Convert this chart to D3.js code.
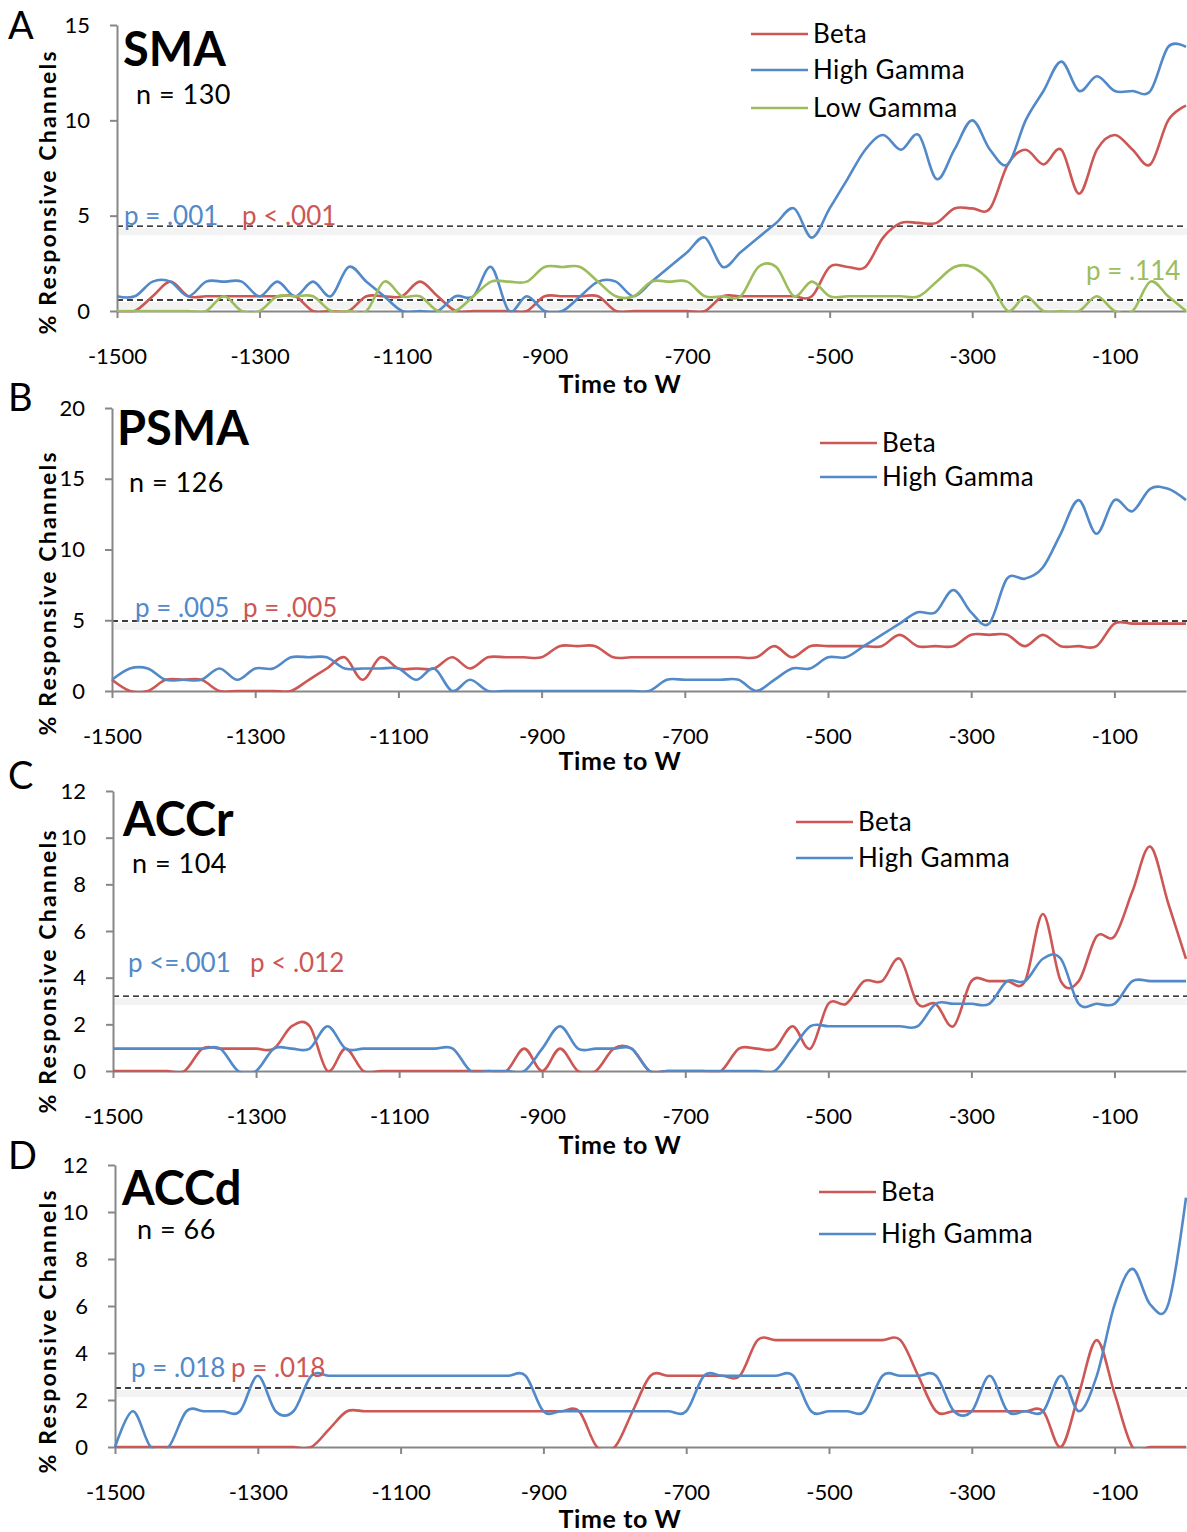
<!DOCTYPE html>
<html><head><meta charset="utf-8">
<script src="https://cdn.jsdelivr.net/npm/d3@7"></script>
<style>
body{margin:0;background:#fff}
svg{display:block}
text{font-family:Lato,"Noto Sans",sans-serif}
</style>
</head><body>
<svg id="chart" width="1187" height="1532"></svg>
<script>
// ---------- DATA ----------
const times = [-1500,-1475,-1450,-1425,-1400,-1375,-1350,-1325,-1300,-1275,-1250,-1225,-1200,-1175,-1150,-1125,-1100,-1075,-1050,-1025,-1000,-975,-950,-925,-900,-875,-850,-825,-800,-775,-750,-725,-700,-675,-650,-625,-600,-575,-550,-525,-500,-475,-450,-425,-400,-375,-350,-325,-300,-275,-250,-225,-200,-175,-150,-125,-100,-75,-50,-25,0];
const xTickValues = [-1500,-1300,-1100,-900,-700,-500,-300,-100];

// SMA (n = 130)
const smaBeta = [0,0,0.77,1.54,0.77,0.77,0.77,0.77,0.77,0.77,0.77,0,0,0,0.77,0.77,0.77,1.54,0.77,0,0,0,0,0,0.77,0.77,0.77,0.77,0,0,0,0,0,0,0.77,0.77,0.77,0.77,0.77,0.77,2.31,2.31,2.31,3.85,4.62,4.62,4.62,5.38,5.38,5.38,7.69,8.46,7.69,8.46,6.15,8.46,9.23,8.46,7.69,10.0,10.77];
const smaHighGamma = [0.77,0.77,1.54,1.54,0.77,1.54,1.54,1.54,0.77,1.54,0.77,1.54,0.77,2.31,1.54,0.77,0,0,0,0.77,0.77,2.31,0,0.77,0,0,0.77,1.54,1.54,0.77,1.54,2.31,3.08,3.85,2.31,3.08,3.85,4.62,5.38,3.85,5.38,6.92,8.46,9.23,8.46,9.23,6.92,8.46,10.0,8.46,7.69,10.0,11.54,13.08,11.54,12.31,11.54,11.54,11.54,13.85,13.85];
const smaLowGamma = [0,0,0,0,0,0,0.77,0,0,0.77,0.77,0.77,0,0,0,1.54,0.77,0.77,0,0,0.77,1.54,1.54,1.54,2.31,2.31,2.31,1.54,0.77,0.77,1.54,1.54,1.54,0.77,0.77,0.77,2.31,2.31,0.77,1.54,0.77,0.77,0.77,0.77,0.77,0.77,1.54,2.31,2.31,1.54,0,0.77,0,0,0,0.77,0,0,1.54,0.77,0];

// PSMA (n = 126)
const psmaBeta = [0.79,0,0,0.79,0.79,0.79,0,0,0,0,0,0.79,1.59,2.38,0.79,2.38,1.59,1.59,1.59,2.38,1.59,2.38,2.38,2.38,2.38,3.17,3.17,3.17,2.38,2.38,2.38,2.38,2.38,2.38,2.38,2.38,2.38,3.17,2.38,3.17,3.17,3.17,3.17,3.17,3.97,3.17,3.17,3.17,3.97,3.97,3.97,3.17,3.97,3.17,3.17,3.17,4.76,4.76,4.76,4.76,4.76];
const psmaHighGamma = [0.79,1.59,1.59,0.79,0.79,0.79,1.59,0.79,1.59,1.59,2.38,2.38,2.38,1.59,1.59,1.59,1.59,0.79,1.59,0,0.79,0,0,0,0,0,0,0,0,0,0,0.79,0.79,0.79,0.79,0.79,0,0.79,1.59,1.59,2.38,2.38,3.17,3.97,4.76,5.56,5.56,7.14,5.56,4.76,7.94,7.94,8.73,11.11,13.49,11.11,13.49,12.7,14.29,14.29,13.49];

// ACCr (n = 104)
const accrBeta = [0,0,0,0,0,0.96,0.96,0.96,0.96,0.96,1.92,1.92,0,0.96,0,0,0,0,0,0,0,0,0,0.96,0,0.96,0,0,0.96,0.96,0,0,0,0,0,0.96,0.96,0.96,1.92,0.96,2.88,2.88,3.85,3.85,4.81,2.88,2.88,1.92,3.85,3.85,3.85,3.85,6.73,3.85,3.85,5.77,5.77,7.69,9.62,7.2,4.81];
const accrHighGamma = [0.96,0.96,0.96,0.96,0.96,0.96,0.96,0,0,0.96,0.96,0.96,1.92,0.96,0.96,0.96,0.96,0.96,0.96,0.96,0,0,0,0,0.96,1.92,0.96,0.96,0.96,0.96,0,0,0,0,0,0,0,0,0.96,1.92,1.92,1.92,1.92,1.92,1.92,1.92,2.88,2.88,2.88,2.88,3.85,3.85,4.81,4.81,2.88,2.88,2.88,3.85,3.85,3.85,3.85];

// ACCd (n = 66)
const accdBeta = [0,0,0,0,0,0,0,0,0,0,0,0,0.76,1.52,1.52,1.52,1.52,1.52,1.52,1.52,1.52,1.52,1.52,1.52,1.52,1.52,1.52,0,0,1.52,3.03,3.03,3.03,3.03,3.03,3.03,4.55,4.55,4.55,4.55,4.55,4.55,4.55,4.55,4.55,3.03,1.52,1.52,1.52,1.52,1.52,1.52,1.52,0,2.27,4.55,2.27,0,0,0,0];
const accdHighGamma = [0,1.52,0,0,1.52,1.52,1.52,1.52,3.03,1.52,1.52,3.03,3.03,3.03,3.03,3.03,3.03,3.03,3.03,3.03,3.03,3.03,3.03,3.03,1.52,1.52,1.52,1.52,1.52,1.52,1.52,1.52,1.52,3.03,3.03,3.03,3.03,3.03,3.03,1.52,1.52,1.52,1.52,3.03,3.03,3.03,3.03,1.52,1.52,3.03,1.52,1.52,1.52,3.03,1.52,3.03,6.06,7.58,6.06,6.06,10.61];

// ---------- STYLE / LAYOUT ----------
const RED = "#CC5754", BLUE = "#5289C8", GREEN = "#9DBD5C", AXIS = "#878787";
const xRight = 1187;

const panels = [
  {letter:"A", letterY:39, title:"SMA", titleX:123, titleY:66, n:"n = 130", nX:136, nY:104,
   x0:117, yZero:311, yTopPx:25, yMax:15, yTicks:[0,5,10,15], yLabelC:193, xTitleY:393,
   series:[{name:"Beta", values:smaBeta, color:RED},{name:"High Gamma", values:smaHighGamma, color:BLUE},{name:"Low Gamma", values:smaLowGamma, color:GREEN}],
   thresholds:[4.45,0.58],
   legend:{x:751, ys:[34,70,108]},
   notes:[{t:"p = .001", x:124, y:225, c:BLUE},{t:"p < .001", x:242, y:225, c:RED},{t:"p = .114", x:1086, y:280, c:GREEN}]},
  {letter:"B", letterY:411, title:"PSMA", titleX:117, titleY:445, n:"n = 126", nX:129, nY:492,
   x0:112, yZero:691, yTopPx:408, yMax:20, yTicks:[0,5,10,15,20], yLabelC:594, xTitleY:770,
   series:[{name:"Beta", values:psmaBeta, color:RED},{name:"High Gamma", values:psmaHighGamma, color:BLUE}],
   thresholds:[4.95],
   legend:{x:820, ys:[443,477]},
   notes:[{t:"p = .005", x:135, y:617, c:BLUE},{t:"p = .005", x:243, y:617, c:RED}]},
  {letter:"C", letterY:789, title:"ACCr", titleX:123, titleY:836, n:"n = 104", nX:132, nY:873,
   x0:113, yZero:1071, yTopPx:791, yMax:12, yTicks:[0,2,4,6,8,10,12], yLabelC:972, xTitleY:1154,
   series:[{name:"Beta", values:accrBeta, color:RED},{name:"High Gamma", values:accrHighGamma, color:BLUE}],
   thresholds:[3.21],
   legend:{x:796, ys:[822,858]},
   notes:[{t:"p <=.001", x:128, y:972, c:BLUE},{t:"p < .012", x:250, y:972, c:RED}]},
  {letter:"D", letterY:1169, title:"ACCd", titleX:122, titleY:1205, n:"n = 66", nX:137, nY:1239,
   x0:115, yZero:1447, yTopPx:1165, yMax:12, yTicks:[0,2,4,6,8,10,12], yLabelC:1332, xTitleY:1528,
   series:[{name:"Beta", values:accdBeta, color:RED},{name:"High Gamma", values:accdHighGamma, color:BLUE}],
   thresholds:[2.51],
   legend:{x:819, ys:[1192,1234]},
   notes:[{t:"p = .018", x:131, y:1377, c:BLUE},{t:"p = .018", x:231, y:1377, c:RED}]}
];

const svg = d3.select("#chart");
const defs = svg.append("defs");

panels.forEach((p, pi) => {
  const g = svg.append("g");
  const x = d3.scaleLinear().domain([-1500, 0]).range([p.x0, xRight - 1]);
  const y = d3.scaleLinear().domain([0, p.yMax]).range([p.yZero, p.yTopPx]);

  defs.append("clipPath").attr("id", "clip" + pi).append("rect")
    .attr("x", p.x0 - 2).attr("y", p.yTopPx - 20).attr("width", xRight - p.x0 + 4)
    .attr("height", p.yZero - p.yTopPx + 20 + 1.3);

  // threshold dashed lines with faint shadow
  p.thresholds.forEach(t => {
    g.append("rect").attr("x", p.x0).attr("y", y(t) + 2).attr("width", xRight - p.x0).attr("height", 7)
      .attr("fill", "#f3f3f3");
    g.append("line").attr("x1", p.x0).attr("x2", xRight).attr("y1", y(t)).attr("y2", y(t))
      .attr("stroke", "#000").attr("stroke-width", 1.4).attr("stroke-dasharray", "6,4");
  });

  // y axis
  const ya = g.append("g").attr("transform", `translate(${p.x0},0)`)
    .call(d3.axisLeft(y).tickValues(p.yTicks).tickSize(7).tickPadding(20).tickSizeOuter(0));
  ya.select(".domain").attr("stroke", AXIS).attr("stroke-width", 2);
  ya.selectAll(".tick line").attr("stroke", AXIS).attr("stroke-width", 2);
  ya.selectAll(".tick text").attr("fill", "#000").style("font-size", "22px").style("font-family", "Lato");

  // x axis
  const xa = g.append("g").attr("transform", `translate(0,${p.yZero})`)
    .call(d3.axisBottom(x).tickValues(xTickValues).tickSize(7).tickSizeOuter(0).tickFormat(d3.format("d")));
  xa.select(".domain").attr("stroke", AXIS).attr("stroke-width", 2);
  xa.selectAll(".tick line").attr("stroke", AXIS).attr("stroke-width", 2);
  xa.selectAll(".tick text").attr("fill", "#000").attr("dy", null).attr("y", 53)
    .style("font-size", "22px").style("font-family", "Lato").text(d => (d < 0 ? "-" : "") + Math.abs(d));

  // lines
  const line = d3.line().x((d, i) => x(times[i])).y(d => y(d)).curve(d3.curveCatmullRom.alpha(0));
  const lg = g.append("g").attr("clip-path", `url(#clip${pi})`);
  p.series.forEach(s => {
    lg.append("path").datum(s.values).attr("d", line).attr("fill", "none")
      .attr("stroke", s.color).attr("stroke-width", 2.6).attr("stroke-linejoin", "round");
  });

  // legend
  p.series.forEach((s, i) => {
    const ly = p.legend.ys[i];
    g.append("line").attr("x1", p.legend.x).attr("x2", p.legend.x + 57).attr("y1", ly).attr("y2", ly)
      .attr("stroke", s.color).attr("stroke-width", 2.6);
    g.append("text").attr("x", p.legend.x + 62).attr("y", ly + 9).text(s.name)
      .style("font-size", "26px").style("letter-spacing", "0.4px").attr("fill", "#000");
  });

  // annotations
  p.notes.forEach(nt => {
    g.append("text").attr("x", nt.x).attr("y", nt.y).text(nt.t).attr("fill", nt.c).style("font-size", "26px");
  });

  // titles
  g.append("text").attr("x", p.titleX).attr("y", p.titleY).text(p.title)
    .style("font-size", "47px").style("font-weight", "bold");
  g.append("text").attr("x", p.nX).attr("y", p.nY).text(p.n).style("font-size", "27px").style("letter-spacing", "0.5px");

  // panel letter
  g.append("text").attr("x", 8).attr("y", p.letterY).text(p.letter).style("font-size", "38px");

  // axis titles
  g.append("text").attr("x", 620).attr("y", p.xTitleY).attr("text-anchor", "middle")
    .text("Time to W").style("font-size", "25px").style("font-weight", "bold").style("letter-spacing", "0.6px");
  g.append("text").attr("transform", `translate(56,${p.yLabelC}) rotate(-90)`).attr("text-anchor", "middle")
    .attr("textLength", 283).attr("lengthAdjust", "spacing")
    .text("% Responsive Channels").style("font-size", "23px").style("font-weight", "bold");
});
</script>
</body></html>
